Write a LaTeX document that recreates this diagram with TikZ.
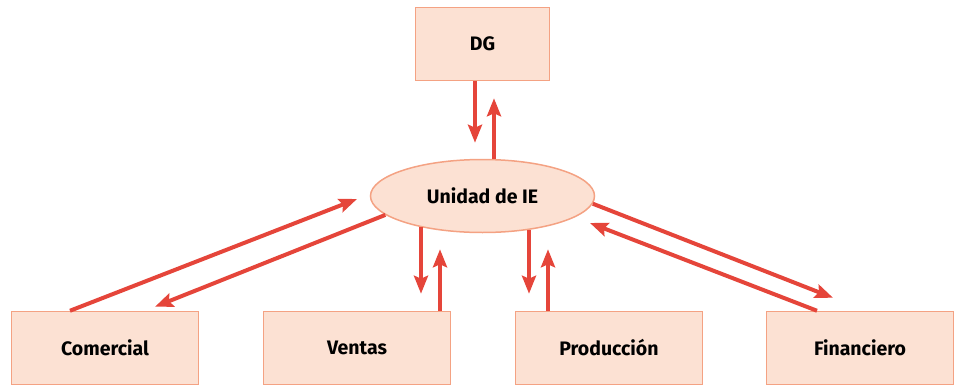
\documentclass[tikz,border=0pt]{standalone}
\usepackage{fontspec}
\setmainfont{Fira Sans}
\usetikzlibrary{arrows.meta,shapes.geometric}
\definecolor{boxfill}{HTML}{FCE1D3}
\definecolor{boxline}{HTML}{F4A283}
\definecolor{arrred}{HTML}{E5453A}
\begin{document}
\begin{tikzpicture}[x=1pt,y=-1pt,
  lbl/.style={font=\bfseries\fontsize{19.5}{22}\selectfont},
  box/.style={lbl,draw=boxline,fill=boxfill,line width=1.5pt,inner sep=0pt,minimum width=187pt,minimum height=73pt},
  topbox/.style={box,minimum width=134pt},
  oval/.style={lbl,ellipse,draw=boxline,fill=boxfill,line width=1.5pt,inner sep=0pt,minimum width=224pt,minimum height=73pt},
  arr/.style={draw=arrred,line width=4pt,-{Stealth[length=18pt,width=14pt,inset=3pt]}}]
\useasboundingbox (0,0) rectangle (954,386);
\node[topbox] (dg) at (482.5,44) {DG};
\node[oval] (ie) at (482.5,196) {Unidad de IE};
\node[box] (com) at (105,348) {Comercial};
\node[box] (ven) at (357,348) {Ventas};
\node[box] (pro) at (609,348) {Producción};
\node[box] (fin) at (860,348) {Financiero};
% DG <-> IE
\draw[arr] ([shift={(-7.5,0)}]dg.south) -- ([shift={(-7.5,-16)}]ie.north);
\draw[arr] ([shift={(11.5,0)}]ie.north) -- ([shift={(11.5,17)}]dg.south);
% Comercial
\draw[arr] (ie.191.6) -- ([shift={(50,-4)}]com.north);
\draw[arr] ([shift={(-35,0)}]com.north) -- ([shift={(-125.5,3)}]ie.center);
% Ventas
\draw[arr] ([xshift=64pt]ven.north |- ie.206.75) -- ([shift={(64,-17)}]ven.north);
\draw[arr] ([shift={(83,0)}]ven.north) -- ([shift={(83,16)}]ven.north |- ie.south);
% Produccion
\draw[arr] ([xshift=-80pt]pro.north |- ie.324.1) -- ([shift={(-80,-17)}]pro.north);
\draw[arr] ([shift={(-61,0)}]pro.north) -- ([shift={(-61,16)}]pro.north |- ie.south);
% Financiero
\draw[arr] (ie.-4) -- ([shift={(-27,-13)}]fin.north);
\draw[arr] ([shift={(-43,0)}]fin.north) -- ([shift={(107.5,27)}]ie.center);
\end{tikzpicture}
\end{document}
